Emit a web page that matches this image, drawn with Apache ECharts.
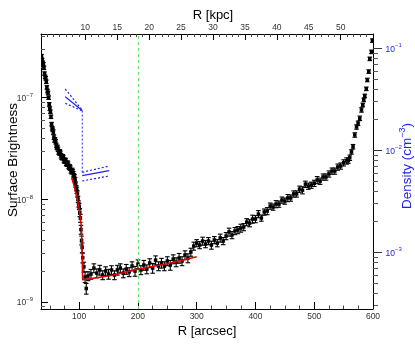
<!DOCTYPE html>
<html>
<head>
<meta charset="utf-8">
<script src="https://cdn.jsdelivr.net/npm/echarts@6/dist/echarts.min.js"></script>
<style>
  html, body { margin: 0; padding: 0; background: #fff; }
  #chart { width: 415px; height: 345px; }
</style>
</head>
<body>
<div id="chart"></div>
<script>
var FONT = 'Liberation Sans, Arial, Helvetica, sans-serif';
var SB_UNIT = 1e-9; // brightness values below are in units of 1e-9

// surface brightness profile, R in arcsec
var radius = [
  36, 37, 38, 39, 40, 41, 42, 43, 44, 45, 46, 47, 48, 49, 50, 51, 52, 53, 54, 55,
  56, 57, 58, 59, 60, 61, 62, 63, 64, 65, 66, 67, 68, 69, 70, 71, 72, 73, 74, 75,
  76, 77, 78, 79, 80, 81, 82, 83, 84, 85, 86, 87, 88, 89, 90, 91, 92, 93, 94, 95,
  96, 97, 98, 99, 100,
  101, 102, 103, 104, 105, 106, 108, 110, 112,
  115, 120, 125, 130, 135, 140, 145, 150, 155, 160, 165, 170, 175, 180, 185, 190, 195, 200,
  205, 210, 215, 220, 225, 230, 235, 240, 245, 250, 255, 260, 265, 270, 275, 280, 285, 290,
  295, 300, 305, 310, 315, 320, 325, 330, 335, 340, 345, 350, 355, 360, 365, 370, 375, 380,
  385, 390, 395, 400, 405, 410, 415, 420, 425, 430, 435, 440, 445, 450, 455, 460, 465, 470,
  475, 480, 485, 490, 495, 500, 505, 510, 515, 520, 525, 530, 535, 540, 545, 550, 555,
  558, 560.5, 563.4, 566, 569, 572, 574.6, 577.5, 580.4, 582.6, 584.3, 586, 588.6, 590.3,
  592.8, 594.5, 597.4, 599
];
var brightness = [
  255, 232, 220, 212, 196, 172, 160, 155, 143, 126, 116, 111, 100, 86, 78, 73, 65, 55, 50, 48.5,
  46, 41, 38.5, 38.6, 37, 34, 32.5, 32.6, 31.2, 29.4, 28.8, 29.5, 28.6, 27, 26.2, 25.8, 26.4, 25.9, 24.5, 23.9,
  24.4, 24.0, 22.8, 22.3, 22.9, 22.4, 21.2, 20.7, 21.0, 20.4, 19.2, 18.8, 19.4, 18.9, 17.8, 17.0, 16.6, 15.6, 14.1, 13.0,
  12.4, 11.4, 10.1, 9.1, 8.6,
  7.5, 6.6, 5.1, 4.0, 3.4, 2.7, 2.2, 1.75, 1.35,
  1.79, 1.87, 2.14, 1.91, 2.05, 1.83, 2.00, 1.87, 2.05, 1.83, 2.05, 2.14, 1.91, 2.09, 1.96, 2.24, 2.00, 2.34,
  2.05, 2.29, 2.09, 2.40, 2.14, 2.56, 2.24, 2.40, 2.24, 2.51, 2.29, 2.62, 2.45, 2.68, 2.51, 2.87, 2.68, 3.07,
  3.52, 3.76, 3.60, 3.94, 3.68, 3.94, 3.60, 4.03, 3.76, 4.22, 3.94, 4.41, 4.83, 4.51, 4.94, 5.05, 5.28, 5.40,
  6.04, 5.90, 6.47, 6.47, 7.24, 6.62, 7.58, 7.75, 8.67, 8.48, 9.07, 9.07, 9.93, 9.71, 10.4, 10.4, 11.4, 11.4,
  12.7, 12.4, 14.2, 13.6, 13.9, 14.5, 15.6, 15.2, 16.7, 16.7, 17.9, 19.1, 19.1, 20.9, 21.4, 23.0, 24.0,
  24.2, 25.8, 29.4, 33.1, 43.1, 51.6, 56.1, 62.8, 75.8, 84.8, 95, 104, 122, 149,
  180, 240, 281, 362
];
var errPct = [
  4, 4, 4, 4, 4, 4, 4, 4, 4, 4, 4, 4, 4, 4, 4, 4, 4, 4, 4, 4,
  5, 5, 5, 5, 5, 5, 5, 5, 5, 5, 5, 5, 5, 5, 5, 5, 5, 5, 5, 5,
  5, 5, 5, 5, 5, 5, 5, 5, 5, 5, 5, 5, 5, 5, 6, 6, 6, 6, 6, 6,
  7, 7, 7, 7, 7,
  9, 9, 10, 10, 11, 11, 11, 12, 12,
  10, 11, 10, 10, 11, 10, 10, 11, 10, 10, 11, 10, 10, 11, 10, 10, 11, 10,
  10, 11, 10, 10, 11, 10, 10, 11, 10, 10, 11, 10, 10, 11, 10, 10, 10, 9,
  9, 8, 8, 9, 8, 8, 9, 8, 8, 9, 8, 8, 9, 8, 8, 8, 9, 8,
  8, 8, 9, 8, 8, 7, 7, 8, 7, 7, 8, 7, 7, 7, 8, 7, 7, 7,
  7, 8, 7, 7, 7, 7, 8, 7, 7, 7, 7, 7, 7, 7, 7, 7, 7,
  6, 6, 5, 5, 5, 5, 5, 5, 5, 4, 4, 4, 4, 4,
  4, 4, 4, 4
];

// model fit (red)
var fitRadius = [87.2, 90, 93, 96.7, 100, 102.5, 104, 105.9, 118, 152, 200, 254, 300];
var fitBrightness = [16.4, 14.6, 12.7, 10.3, 8.1, 6.2, 5.3, 1.64, 1.68, 1.80, 2.08, 2.38, 2.76];

// density model (blue), cm^-3
var densInR = [76.3, 105.2];
var densIn = [0.0335, 0.0245];
var densInHi = [0.0399, 0.0247];
var densInLo = [0.0289, 0.0243];
var densOutR = [105.2, 151];
var densOut = [0.00564, 0.00631];
var densOutHi = [0.00608, 0.00701];
var densOutLo = [0.00500, 0.00560];

var jumpR = 200; // green marker line

// ticks
var arcsecTicks = [100, 200, 300, 400, 500, 600];
var arcsecMinor = [50, 75, 125, 150, 175, 225, 250, 275, 325, 350, 375, 425, 450, 475, 525, 550, 575];
var kpcTicks = [10, 15, 20, 25, 30, 35, 40, 45, 50];
var sbTicks = [1e-9, 1e-8, 1e-7];
var densTicks = [1e-3, 1e-2, 1e-1];

var kpcMinor = [];
for (var k = 4; k <= 55; k++) if (k % 5 !== 0 || k < 10) kpcMinor.push(k);
function logMinor(lo, hi) {
  var out = [];
  for (var e = lo; e <= hi; e++) for (var m = 2; m <= 9; m++) out.push(m * Math.pow(10, e));
  return out;
}
var sbMinor = logMinor(-10, -7);
var densMinor = logMinor(-4, -1);

function pairs(xs, ys, f) {
  return xs.map(function (x, i) { return [x, ys[i] * (f || 1)]; });
}

var points = radius.map(function (r, i) {
  var v = brightness[i] * SB_UNIT;
  var e = v * errPct[i] / 100;
  return [r, v, v - e, v + e];
});

function powLabel(v) {
  var e = Math.round(Math.log10(v));
  return '{b|10}{s|' + (e < 0 ? '\u2212' + (-e) : e) + '}';
}
function richFor(color) {
  return {
    b: { fontSize: 8.5, color: color, fontFamily: FONT, lineHeight: 11, verticalAlign: 'bottom' },
    s: { fontSize: 6, color: color, fontFamily: FONT, lineHeight: 7, verticalAlign: 'top' }
  };
}

var BLUE = '#2222ee';
var chart = echarts.init(document.getElementById('chart'));

var option = {
  animation: false,
  grid: { left: 41, right: 42, top: 34, bottom: 36, outerBoundsMode: 'none' },
  xAxis: [
    {
      type: 'value', position: 'bottom', min: 35, max: 600,
      axisLine: { show: true, onZero: false, lineStyle: { color: '#000', width: 1 } },
      axisTick: { show: true, inside: true, length: 7, customValues: arcsecTicks, lineStyle: { color: '#000' } },
      axisLabel: { customValues: arcsecTicks, fontSize: 8.5, color: '#333', margin: 3, fontFamily: FONT },
      splitLine: { show: false },
      name: 'R [arcsec]', nameLocation: 'middle', nameGap: 16, nameMoveOverlap: false,
      nameTextStyle: { fontSize: 13, color: '#000', fontFamily: FONT }
    },
    {
      type: 'value', position: 'top', min: 3.07, max: 55.05,
      axisLine: { show: true, onZero: false, lineStyle: { color: '#000', width: 1 } },
      axisTick: { show: true, inside: true, length: 6, customValues: kpcTicks, lineStyle: { color: '#000' } },
      axisLabel: { customValues: kpcTicks, fontSize: 8.5, color: '#333', margin: 2, fontFamily: FONT },
      splitLine: { show: false },
      name: 'R [kpc]', nameLocation: 'middle', nameGap: 12, nameMoveOverlap: false,
      nameTextStyle: { fontSize: 13, color: '#000', fontFamily: FONT, padding: [0, 0, 0, 12] }
    },
    {
      type: 'value', position: 'bottom', min: 35, max: 600,
      axisLine: { show: false, onZero: false },
      axisTick: { show: true, inside: true, length: 3.5, customValues: arcsecMinor, lineStyle: { color: '#444' } },
      axisLabel: { show: false }, splitLine: { show: false }
    },
    {
      type: 'value', position: 'top', min: 3.07, max: 55.05,
      axisLine: { show: false, onZero: false },
      axisTick: { show: true, inside: true, length: 3, customValues: kpcMinor, lineStyle: { color: '#444' } },
      axisLabel: { show: false }, splitLine: { show: false }
    }
  ],
  yAxis: [
    {
      type: 'log', position: 'left', min: 8.5e-10, max: 4.2e-7,
      axisLine: { show: true, lineStyle: { color: '#000', width: 1 } },
      axisTick: { show: true, inside: true, length: 7, customValues: sbTicks, lineStyle: { color: '#000' } },
      axisLabel: { customValues: sbTicks, formatter: powLabel, margin: 8, rich: richFor('#333') },
      splitLine: { show: false },
      name: 'Surface Brightness', nameLocation: 'middle', nameGap: 21, nameMoveOverlap: false,
      nameTextStyle: { fontSize: 13.5, color: '#000', fontFamily: FONT, padding: [0, 0, 0, 23] }
    },
    {
      type: 'log', position: 'right', min: 2.78e-4, max: 0.138,
      axisLine: { show: true, lineStyle: { color: '#000', width: 1 } },
      axisTick: { show: true, inside: false, length: 9, customValues: densTicks, lineStyle: { color: '#333' } },
      axisLabel: { customValues: densTicks, formatter: powLabel, margin: 12.5, rich: richFor(BLUE) },
      splitLine: { show: false },
      name: '{d|Density (cm}{s|\u22123}{d|)}', nameLocation: 'middle', nameGap: 25, nameMoveOverlap: false,
      nameTextStyle: {
        padding: [0, 0, 0, 11],
        rich: {
          d: { fontSize: 13.5, color: BLUE, fontFamily: FONT, lineHeight: 16, verticalAlign: 'bottom' },
          s: { fontSize: 9, color: BLUE, fontFamily: FONT, lineHeight: 10, verticalAlign: 'top' }
        }
      }
    },
    {
      type: 'log', position: 'left', min: 8.5e-10, max: 4.2e-7,
      axisLine: { show: false },
      axisTick: { show: true, inside: true, length: 4, customValues: sbMinor, lineStyle: { color: '#555' } },
      axisLabel: { show: false }, splitLine: { show: false }
    },
    {
      type: 'log', position: 'right', min: 2.78e-4, max: 0.138,
      axisLine: { show: false },
      axisTick: { show: true, inside: false, length: 5, customValues: densMinor, lineStyle: { color: '#555' } },
      axisLabel: { show: false }, splitLine: { show: false }
    }
  ],
  series: [
    {
      type: 'custom', xAxisIndex: 0, yAxisIndex: 0, clip: true,
      data: points,
      encode: { x: 0, y: [1, 2, 3] },
      renderItem: function (params, api) {
        var c = api.coord([api.value(0), api.value(1)]);
        var lo = api.coord([api.value(0), api.value(2)]);
        var hi = api.coord([api.value(0), api.value(3)]);
        var cap = 2.3;
        var st = { stroke: '#000', lineWidth: 1.1 };
        return {
          type: 'group',
          children: [
            { type: 'line', shape: { x1: c[0], y1: hi[1], x2: c[0], y2: lo[1] }, style: st },
            { type: 'line', shape: { x1: c[0] - cap, y1: hi[1], x2: c[0] + cap, y2: hi[1] }, style: st },
            { type: 'line', shape: { x1: c[0] - cap, y1: lo[1], x2: c[0] + cap, y2: lo[1] }, style: st },
            { type: 'rect', shape: { x: c[0] - 1.75, y: c[1] - 1.75, width: 3.5, height: 3.5 }, style: { fill: '#000' } }
          ]
        };
      }
    },
    {
      type: 'line', xAxisIndex: 0, yAxisIndex: 0, showSymbol: false,
      data: pairs(fitRadius, fitBrightness, SB_UNIT),
      lineStyle: { color: '#e00000', width: 1.5 },
      markLine: {
        silent: true, symbol: 'none', label: { show: false },
        lineStyle: { color: '#66dd66', type: [3, 3], width: 1 },
        data: [{ xAxis: jumpR }]
      }
    },
    { type: 'line', xAxisIndex: 0, yAxisIndex: 1, showSymbol: false, data: pairs(densInR, densIn), lineStyle: { color: BLUE, width: 1.2 } },
    { type: 'line', xAxisIndex: 0, yAxisIndex: 1, showSymbol: false, data: pairs(densInR, densInHi), lineStyle: { color: BLUE, width: 1.2, type: [2, 2] } },
    { type: 'line', xAxisIndex: 0, yAxisIndex: 1, showSymbol: false, data: pairs(densInR, densInLo), lineStyle: { color: BLUE, width: 1.2, type: [2, 2] } },
    { type: 'line', xAxisIndex: 0, yAxisIndex: 1, showSymbol: false, data: [[densInR[1], densIn[1]], [densOutR[0], densOutHi[0]]], lineStyle: { color: BLUE, width: 1, type: [2, 2] } },
    { type: 'line', xAxisIndex: 0, yAxisIndex: 1, showSymbol: false, data: pairs(densOutR, densOut), lineStyle: { color: BLUE, width: 1.2 } },
    { type: 'line', xAxisIndex: 0, yAxisIndex: 1, showSymbol: false, data: pairs(densOutR, densOutHi), lineStyle: { color: BLUE, width: 1.2, type: [2, 2] } },
    { type: 'line', xAxisIndex: 0, yAxisIndex: 1, showSymbol: false, data: pairs(densOutR, densOutLo), lineStyle: { color: BLUE, width: 1.2, type: [2, 2] } }
  ]
};
chart.setOption(option);
</script>
</body>
</html>
